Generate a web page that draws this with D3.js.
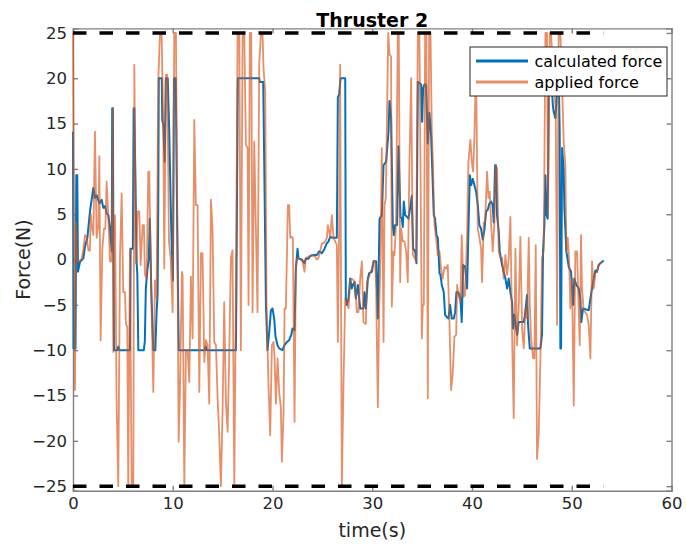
<!DOCTYPE html>
<html>
<head>
<meta charset="utf-8">
<script src="https://cdn.jsdelivr.net/npm/d3@7"></script>
<style>
  body { margin: 0; background: #fff; }
  svg { font-family: "DejaVu Sans", sans-serif; }
  .axis path, .axis line { stroke: #808080; stroke-width: 1.4; }
  .axis text { fill: #262626; font-size: 16.5px; font-family: "DejaVu Sans", sans-serif; }
</style>
</head>
<body>
<div id="chart"></div>
<script>

      // time stamps (s) and values (N)
      var calcTime = [0, 0.05, 0.25, 0.33, 0.43, 0.5, 0.7, 1.04, 1.2, 1.44, 1.7, 1.87, 2.04, 2.2, 2.37, 2.64, 2.87, 3.04, 3.21, 3.37,
        3.54, 3.71, 3.88, 3.93, 4.0, 4.05, 4.11, 4.44, 4.54, 4.64, 5.71, 5.78, 6.0, 6.08, 6.15, 6.38, 6.45, 6.55, 7.1, 7.2,
        7.3, 7.45, 7.6, 7.7, 7.85, 8.05, 8.25, 8.38, 8.48, 8.55, 8.6, 8.9, 8.95, 9.05, 9.2, 9.3, 9.5, 9.65, 9.78, 9.88,
        10.02, 10.12, 10.3, 10.45, 10.6, 13.2, 13.3, 13.4, 16.33, 16.38, 16.52, 18.67, 18.72, 19.07, 19.17, 19.34, 19.5, 19.67, 19.84, 20.0,
        20.17, 20.3, 20.5, 20.67, 21.0, 21.2, 21.44, 21.67, 21.88, 22.01, 22.21, 22.34, 22.51, 22.61, 22.94, 23.21, 23.34, 23.61, 23.78, 24.11,
        24.45, 24.68, 24.95, 25.22, 25.45, 25.62, 25.78, 26.02, 26.45, 26.55, 26.68, 26.82, 27.29, 27.35, 27.45, 27.62, 27.79, 27.95, 28.05, 28.22,
        28.35, 28.56, 28.79, 29.12, 29.22, 29.36, 29.56, 29.69, 29.96, 30.13, 30.39, 30.56, 30.73, 30.96, 31.13, 31.39, 31.63, 31.73, 31.89, 32.06,
        32.16, 32.29, 32.49, 32.63, 32.83, 32.96, 33.06, 33.16, 33.3, 33.5, 33.63, 33.83, 33.96, 34.1, 34.3, 34.43, 34.57, 34.73, 34.9, 35.0,
        35.1, 35.23, 35.4, 35.57, 35.73, 35.9, 36.07, 36.17, 36.3, 36.44, 36.57, 36.64, 36.74, 36.84, 36.97, 37.17, 37.3, 37.44, 37.64, 37.8,
        37.97, 38.17, 38.31, 38.44, 38.64, 38.84, 38.97, 39.11, 39.31, 39.51, 39.64, 39.78, 39.91, 40.08, 40.24, 40.41, 40.58, 40.74, 40.91, 41.08,
        41.25, 41.41, 41.58, 41.75, 41.91, 42.08, 42.18, 42.31, 42.4, 42.51, 42.68, 42.78, 43.01, 43.18, 43.35, 43.52, 43.68, 43.85, 44.02, 44.12,
        44.25, 44.38, 44.52, 44.68, 45.19, 45.35, 45.52, 45.62, 45.79, 46.86, 47.02, 47.12, 47.26, 47.36, 47.46, 47.59, 47.69, 47.8, 47.95, 48.1,
        48.19, 48.36, 48.53, 48.69, 48.79, 48.86, 48.93, 49.03, 49.19, 49.26, 49.46, 49.7, 49.93, 50.13, 50.26, 50.46, 50.7, 50.86, 50.96, 51.13,
        51.7, 51.87, 52.03, 52.2, 52.37, 52.53, 52.7, 52.87, 53.2];
      var calcForce = [14.1, -9.8, -9.8, 9.3, 9.3, -1.35, -0.24, 0.13, 1.4, 2.4, 5.3, 6.6, 7.9, 6.8, 7.1, 6.2, 6.6, 5.7, 5.9, 5.1,
        4.9, 3.4, 0.9, 16.7, 16.7, 0.9, -10, -10, -9.6, -10, -10, 1.2, 1.2, 16.7, 16.7, -0.3, -1.7, -10, -10, -9,
        -3.2, -1.2, 0.1, 4.5, -3.5, -10, -10, -5.8, -3.9, 6.5, 20, 20, 15.4, 14.9, 10.8, 20, 20, 14, 6.9, 2.1,
        -2.3, 20, 20, 3.4, -10, -10, -9.6, -10, -10, -3.5, 20, 20, 19.6, 19.6, 10.8, -4.9, -10, -8.0, -5.6, -5.4,
        -6.5, -8.5, -9.45, -9.8, -10, -9.45, -9.1, -8.9, -8.3, -7.6, -7.8, -1.0, 1.2, 0.1, 0.0, -0.4, 0.1, 0.1, 0.4, 0.5,
        0.5, 0.9, 0.7, 1.2, 1.8, 2.0, 2.5, 2.4, 2.4, 17.9, 18.2, 20, 20, -4.3, -5.0, -4.3, -2.1, -3.2, -2.8, -2.5,
        -4.3, -2.8, -5.4, -5.4, -3.6, -5.4, -2.1, -1.5, -1.35, -0.2, -0.2, -6.5, 4.5, 4.9, 10.4, 10.8, 14.1, 17.5, 15.6, 3.8,
        2.7, 3.8, 3.8, 12.5, 4.7, 4.5, 3.6, 6.4, 4.9, 4.7, 4.5, 5.9, 7.0, 1.2, 0.9, -0.4, 19.6, 19.5, 19.3, 15.2,
        18.9, 19.3, 19.3, 12.8, 16.2, 13.7, 8.2, 4.9, 4.5, 2.7, 2.4, 0.9, -1.5, -1.7, -2.8, -3.6, -6.1, -6.3, -6.5, -5.0,
        -6.5, -6.5, -5.8, -3.6, -3.6, -4.3, -6.9, -0.6, -0.8, -3.2, 3.1, 9.3, 8.2, 8.9, 8.2, 7.5, 6.0, 3.8, 3.4, 2.2,
        3.3, 5.3, 5.5, 6.2, 6.4, 6.0, 4.1, 10.4, 10.4, 4.9, 3.1, 0.9, -0.6, -1.35, -2.1, -3.2, -2.1, -3.6, -4.7, -7.6,
        -6.1, -7.2, -8.3, -6.9, -6.9, -5.8, -3.9, -7.2, -9.8, -9.8, -8.3, 0.9, 3.8, 9.3, 5.0, 4.5, 18.0, 20.3, 20, 17.1,
        16.3, 15.6, 18.5, 20.5, 14, -9.8, -9.8, 12.3, 10.0, 5.7, 0.9, -0.8, -1.35, -5.0, -2.1, -2.8, -3.2, -4.3, -6.9, -5.4,
        -5.6, -4.3, -3.2, -2.1, -1.2, -1.35, -0.6, -0.4, -0.1];

      var applTime = [0, 0.1, 0.2, 0.3, 0.43, 0.64, 0.87, 1.04, 1.2, 1.37, 1.54, 1.7, 1.77, 1.87, 2.04, 2.2, 2.37, 2.54, 2.64, 2.77,
        2.94, 3.11, 3.24, 3.37, 3.54, 3.71, 3.88, 3.98, 4.04, 4.21, 4.38, 4.54, 4.71, 4.88, 5.04, 5.21, 5.31, 5.44, 5.54, 5.71,
        5.88, 6.05, 6.15, 6.31, 6.48, 6.65, 6.78, 6.98, 7.11, 7.21, 7.38, 7.55, 7.65, 7.72, 7.88, 8.05, 8.22, 8.38, 8.55, 8.72,
        8.88, 9.05, 9.15, 9.32, 9.45, 9.62, 9.79, 9.99, 10.15, 10.32, 10.49, 10.59, 10.72, 10.92, 10.99, 11.16, 11.32, 11.49, 11.66, 11.82,
        11.99, 12.16, 12.32, 12.49, 12.66, 12.83, 12.99, 13.16, 13.33, 13.49, 13.66, 13.83, 13.99, 14.16, 14.33, 14.5, 14.66, 14.83, 15.0, 15.16,
        15.33, 15.5, 15.66, 15.83, 15.99, 16.17, 16.33, 16.5, 16.67, 16.83, 17.0, 17.17, 17.33, 17.5, 17.6, 17.73, 17.87, 18.0, 18.17, 18.34,
        18.5, 18.67, 18.84, 19.0, 19.1, 19.27, 19.4, 19.6, 19.77, 19.94, 20.11, 20.21, 20.34, 20.51, 20.67, 20.84, 20.94, 21.11, 21.21, 21.34,
        21.44, 21.54, 21.67, 21.78, 21.94, 22.04, 22.21, 22.34, 22.54, 22.78, 23.01, 23.21, 23.34, 23.61, 23.95, 24.28, 24.45, 24.61, 24.78, 24.95,
        25.12, 25.28, 25.45, 25.55, 25.68, 25.78, 25.95, 26.12, 26.28, 26.45, 26.55, 26.68, 26.78, 26.95, 27.12, 27.29, 27.45, 27.62, 27.79, 27.95,
        28.12, 28.29, 28.45, 28.62, 28.79, 28.96, 29.12, 29.36, 29.46, 29.62, 29.79, 29.96, 30.13, 30.29, 30.39, 30.56, 30.69, 30.83, 30.96, 31.13,
        31.23, 31.36, 31.5, 31.6, 31.73, 31.89, 31.96, 32.13, 32.23, 32.39, 32.56, 32.66, 32.8, 32.9, 33.06, 33.23, 33.4, 33.56, 33.73, 33.9,
        34.06, 34.23, 34.4, 34.57, 34.73, 34.83, 34.97, 35.07, 35.17, 35.3, 35.43, 35.57, 35.7, 35.84, 35.97, 36.07, 36.24, 36.4, 36.57, 36.74,
        36.9, 37.07, 37.24, 37.4, 37.57, 37.74, 37.9, 38.07, 38.24, 38.41, 38.51, 38.64, 38.84, 38.97, 39.18, 39.31, 39.51, 39.64, 39.84, 39.98,
        40.11, 40.24, 40.34, 40.44, 40.58, 40.74, 40.91, 41.01, 41.18, 41.31, 41.51, 41.65, 41.78, 41.91, 42.08, 42.25, 42.35, 42.51, 42.68, 42.85,
        43.01, 43.18, 43.35, 43.52, 43.68, 43.85, 44.02, 44.18, 44.35, 44.52, 44.68, 44.85, 45.02, 45.19, 45.35, 45.52, 45.69, 45.79, 45.92, 46.12,
        46.25, 46.39, 46.52, 46.69, 46.86, 47.02, 47.19, 47.36, 47.52, 47.62, 47.79, 47.92, 48.12, 48.26, 48.39, 48.53, 48.69, 48.86, 49.03, 49.19,
        49.36, 49.46, 49.6, 49.73, 49.86, 50.03, 50.2, 50.36, 50.53, 50.7, 50.8, 50.93, 51.03, 51.2, 51.53, 51.7, 51.87, 52.03, 52.2, 52.37,
        52.53, 52.7, 52.87, 53.04];
      var applForce = [25, 3.6, -14.4, 4.1, -0.2, -0.2, 0.1, 1.2, 2.7, 2.4, 1.0, 1.0, 5.1, 3.8, 2.7, 14.1, 2.4, 3.8, 11.4, -8.9,
        1.2, 3.4, 3.4, 8.6, 4.9, -0.2, -0.2, 16.7, -10.2, 4.9, -16.4, -25, 0.1, 7.3, -3.6, -3.6, -7.2, -7.4, -25, 1.2,
        -25, -25, 21.5, -0.4, 5.3, 5.3, -0.6, 3.8, 3.8, -1.7, -2.1, 9.7, 9.7, 4.5, -5.4, -14.6, -2.3, -4.3, 19.8, 25,
        25, 14.9, -1.0, 20.4, 20.4, 2.0, 0.1, -5.8, 25, 25, -1.35, -20.1, -14.6, -1.35, -1.7, -25, -10, -10, -13.5, -1.9,
        -8.7, 15.4, 6.0, 6.0, -14.6, 0.7, 0.7, -11.3, -8.9, -9.45, -15.9, 6.6, 3.4, -9.1, -9.45, -15.3, -19.4, -25, -16.4, -4.7,
        -15.7, -19.0, -10.6, 0.2, 1.0, -25, -3.6, 25, 25, -10, 25, 25, 12.7, 12.3, -5.0, 25, 25, -5.8, 13.0, 3.1,
        -5.8, 21.5, 25, 25, 21.1, 18.5, -5.0, -13.9, -19.4, -9.45, -9.1, -10.9, -15.9, -10.9, -14.6, -16.4, -22.3, -16.8, -5.4, -5.4,
        0.2, 6.0, 6.0, 2.4, 2.5, 2.4, -17.9, -0.6, 0.2, 0.0, -0.2, -1.35, 0.2, 0.3, 0.5, 0.3, 0.0, 0.2, 0.9, 1.8,
        1.8, 2.0, 2.4, 3.8, 3.1, 2.4, 4.9, 2.4, 2.0, 1.6, -9.1, 3.8, 21.5, -25, -13.5, -4.3, -4.7, -5.4, -2.3, -2.1,
        -2.3, -2.5, -5.8, -5.8, -2.1, -0.2, -6.9, -7.1, -2.5, -2.1, -1.5, -1.0, -0.2, -0.2, -3.2, -16.3, -5.8, 0.2, 12.3, -9.1,
        6.0, 6.8, 17.4, 25, 22.6, 22.4, -5.2, 0.9, 0.5, 4.1, 25, 25, -2.5, 3.4, 2.0, 2.0, 0.9, -2.5, 10.8, 20.0,
        0.5, 0.2, -0.2, 25, 25, 11.9, -8.7, -5.0, -5.0, 25, 25, -15.3, 25, 25, 14.1, 11.0, 3.8, 2.4, 0.5, 0.9,
        -1.0, -2.1, -0.8, -1.0, -0.6, -6.9, -14.4, -12.6, -8.5, -8.3, -2.8, -3.9, -4.7, 2.7, -4.1, -3.9, 3.1, 10.8, 13.2, 10.8,
        9.7, 13.4, 18.5, 17.8, 3.4, 2.4, 1.2, -2.5, 4.1, 4.1, 9.7, 6.8, 7.5, 4.1, 0.9, 4.1, 10.3, 10.1, 0.9, 0.2,
        0.2, -2.1, 0.5, -1.7, 0.2, 4.7, -8.3, -17.5, 1.2, -9.45, -5.4, 2.5, -7.6, -9.8, -5.4, -6.5, 2.4, -4.7, -8.7, -10.9,
        -10.9, 1.6, -22.0, -19.2, -10.9, 0.2, 0.9, 25, 25, 4.9, 25, 25, 21.0, 18.5, 16.7, -7.2, 25, 25, 19.3, 13.0,
        10.4, 0.9, 2.4, 0.2, -5.4, -2.1, -16.1, 0.9, 0.9, -5.8, -9.45, 2.7, -3.2, -5.6, -6.1, -7.2, -10.9, -0.2, -3.2, -1.5,
        -1.35, -0.6, -0.4, -0.2];

      // force limits shown as dashed lines
      var limitLevels = [25, -25];
      var limitSpan = [0, 53.15];

      var xTicks = [0, 10, 20, 30, 40, 50, 60];
      var yTicks = [-25, -20, -15, -10, -5, 0, 5, 10, 15, 20, 25];
      var seriesNames = ["calculated force", "applied force"];

      var margin = {top: 28.4, right: 14.5, bottom: 53.3, left: 73};

      var width = 686 - margin.left - margin.right,
          height = 544 - margin.top - margin.bottom;

      var svg = d3.select("#chart").append("svg")
                .attr("width", 686)
                .attr("height", 544);

      var canvas = svg.append("g")
                .attr("transform", "translate(" + margin.left + "," + margin.top + ")");

      ////// Define Scales /////////////////
      var xScale = d3.scaleLinear()
          .domain([0, 60])
          .range([0, width]);
      var yScale = d3.scaleLinear()
          .domain([-25.5, 25.5])
          .range([height, 0]);

      /////// Axes, ticks pointing inward, box on //////////
      canvas.append("g")
          .attr("class", "x axis")
          .attr("transform", "translate(0," + height + ")")
          .call(d3.axisBottom(xScale).tickValues(xTicks).tickSize(-5).tickPadding(7));

      canvas.append("g")
          .attr("class", "y axis")
          .call(d3.axisLeft(yScale).tickValues(yTicks).tickSize(-5).tickPadding(6));

      canvas.append("g")
          .attr("class", "axis")
          .call(d3.axisTop(xScale).tickValues(xTicks).tickSize(-5).tickFormat(""));

      canvas.append("g")
          .attr("class", "axis")
          .attr("transform", "translate(" + width + ",0)")
          .call(d3.axisRight(yScale).tickValues(yTicks).tickSize(-5).tickFormat(""));

      canvas.selectAll(".axis path").attr("stroke-linecap", "square");

      // lines
      var line = d3.line()
          .x(function(d) { return xScale(d[0]); })
          .y(function(d) { return yScale(d[1]); });

      var calcData = d3.zip(calcTime, calcForce);
      var applData = d3.zip(applTime, applForce);

      canvas.append("path")
          .datum(calcData)
          .attr("fill", "none")
          .attr("stroke", "#0072BD")
          .attr("stroke-width", 2)
          .attr("stroke-linejoin", "round")
          .attr("d", line);

      canvas.append("path")
          .datum(applData)
          .attr("fill", "none")
          .attr("stroke", "#D95319")
          .attr("stroke-opacity", 0.65)
          .attr("stroke-width", 1.8)
          .attr("stroke-linejoin", "round")
          .attr("d", line);

      // dashed limits
      canvas.selectAll(".limit")
          .data(limitLevels)
          .enter()
          .append("line")
          .attr("class", "limit")
          .attr("x1", xScale(limitSpan[0]))
          .attr("x2", xScale(limitSpan[1]))
          .attr("y1", function(d) { return yScale(d); })
          .attr("y2", function(d) { return yScale(d); })
          .attr("stroke", "#000")
          .attr("stroke-width", 3.5)
          .attr("stroke-dasharray", "13.5,13");

      // title and labels
      svg.append("text")
          .attr("x", margin.left + width / 2)
          .attr("y", 26.5)
          .attr("text-anchor", "middle")
          .attr("font-size", "19px")
          .attr("font-weight", "bold")
          .attr("fill", "#000")
          .text("Thruster 2");

      svg.append("text")
          .attr("x", margin.left + width / 2)
          .attr("y", 537)
          .attr("text-anchor", "middle")
          .attr("font-size", "19px")
          .attr("fill", "#262626")
          .text("time(s)");

      svg.append("text")
          .attr("transform", "translate(30," + (margin.top + height / 2) + ") rotate(-90)")
          .attr("text-anchor", "middle")
          .attr("font-size", "19px")
          .attr("fill", "#262626")
          .text("Force(N)");

      // legend
      var legend = svg.append("g")
          .attr("transform", "translate(470,47)");

      legend.append("rect")
          .attr("width", 197)
          .attr("height", 49)
          .attr("fill", "#fff")
          .attr("stroke", "#262626")
          .attr("stroke-width", 1);

      var legendColors = ["#0072BD", "#D95319"];
      var legendOpacity = [1, 0.65];

      legend.selectAll(".entry")
          .data(seriesNames)
          .enter()
          .append("g")
          .attr("class", "entry")
          .attr("transform", function(d, i) { return "translate(0," + (14 + i * 21) + ")"; })
          .each(function(d, i) {
              var g = d3.select(this);
              g.append("line")
                  .attr("x1", 6).attr("x2", 58)
                  .attr("stroke", legendColors[i])
                  .attr("stroke-opacity", legendOpacity[i])
                  .attr("stroke-width", 3);
              g.append("text")
                  .attr("x", 64.5)
                  .attr("y", 6)
                  .attr("font-size", "16px")
                  .attr("fill", "#000")
                  .text(d);
          });

</script>
</body>
</html>
